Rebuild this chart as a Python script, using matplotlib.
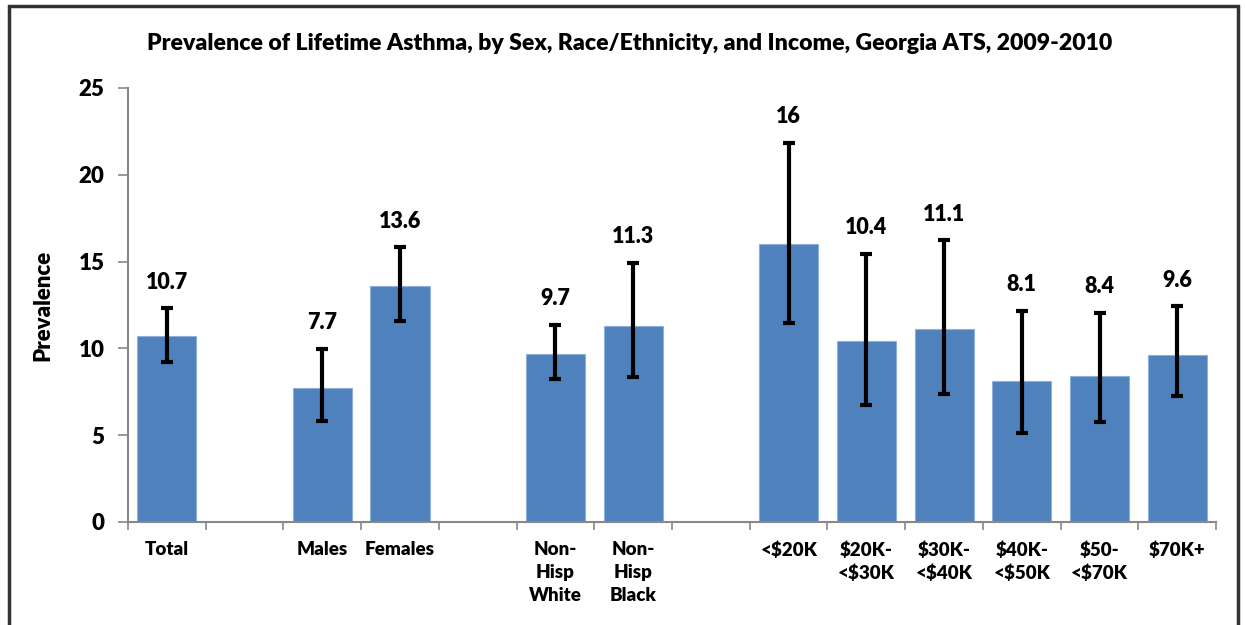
import matplotlib
matplotlib.use("Agg")
from matplotlib import pyplot as plt
from matplotlib.patches import Rectangle
import numpy as np

plt.rcParams['font.family'] = ['Lato', 'DejaVu Sans']
plt.rcParams['font.weight'] = 800

# data (empty strings are the gap slots between groups)
categories = ["Total", "", "Males", "Females", "", "Non-\nHisp\nWhite", "Non-\nHisp\nBlack", "",
              "<$20K", "$20K-\n<$30K", "$30K-\n<$40K", "$40K-\n<$50K", "$50-\n<$70K", "$70K+"]
prevalence = [10.7, None, 7.7, 13.6, None, 9.7, 11.3, None, 16, 10.4, 11.1, 8.1, 8.4, 9.6]
ci_lower = [9.24, None, 5.84, 11.56, None, 8.24, 8.35, None, 11.44, 6.74, 7.35, 5.15, 5.74, 7.26]
ci_upper = [12.31, None, 9.97, 15.84, None, 11.35, 14.92, None, 21.85, 15.44, 16.24, 12.17, 12.06, 12.44]
value_labels = ["10.7", "", "7.7", "13.6", "", "9.7", "11.3", "", "16", "10.4", "11.1", "8.1", "8.4", "9.6"]

bar_color = "#4F81BD"

fig = plt.figure(figsize=(12.45, 6.25), dpi=100)
ax = fig.add_axes([0.1028, 0.1648, 0.8740, 0.6944])

idx = [i for i, v in enumerate(prevalence) if v is not None]
x = np.array(idx, dtype=float)
vals = np.array([prevalence[i] for i in idx])
lo = np.array([ci_lower[i] for i in idx])
hi = np.array([ci_upper[i] for i in idx])

ax.bar(x, vals, width=0.76, color=bar_color, edgecolor="#8EB0DA", linewidth=0.8, zorder=2)
ax.errorbar(x, vals, yerr=[vals - lo, hi - vals], fmt="none", ecolor="black",
            elinewidth=3, capsize=4.2, capthick=3, zorder=3)

for i in idx:
    ax.annotate(value_labels[i], (i, ci_upper[i]), xytext=(0, 26), textcoords="offset pixels",
                ha="center", va="center", fontsize=15.5, fontweight=800)

ax.set_xlim(-0.5, len(categories) - 0.5)
ax.set_ylim(0, 25)
ax.set_yticks([0, 5, 10, 15, 20, 25])
ax.tick_params(axis="y", labelsize=16, length=7, width=1.2, color="#888888", pad=10)

# boundary ticks, labels centred in slots
ax.set_xticks(np.arange(len(categories) + 1) - 0.5)
ax.set_xticklabels([])
ax.set_xticks(np.arange(len(categories)), minor=True)
ax.set_xticklabels([c.replace("$", r"\$") for c in categories], minor=True,
                   fontsize=13.5, fontweight=800, linespacing=1.4, va="top")
ax.tick_params(axis="x", which="major", length=6, width=1.2, color="#888888")
ax.tick_params(axis="x", which="minor", length=0, pad=14)

for s in ["top", "right"]:
    ax.spines[s].set_visible(False)
for s in ["left", "bottom"]:
    ax.spines[s].set_color("#888888")
    ax.spines[s].set_linewidth(1.5)

ax.set_ylabel("Prevalence", fontsize=16, fontweight=800, labelpad=18)

fig.text(0.5058, 0.931, "Prevalence of Lifetime Asthma, by Sex, Race/Ethnicity, and Income, Georgia ATS, 2009-2010",
         ha="center", va="center", fontsize=16.6, fontweight=800)

# outer frame
fig.patches.append(Rectangle((9 / 1245, -0.05), 1229 / 1245, 1.05 - 6 / 625, transform=fig.transFigure,
                             fill=False, edgecolor="#333333", linewidth=2.5))

plt.savefig("out.png", dpi=100)
plt.close(fig)
